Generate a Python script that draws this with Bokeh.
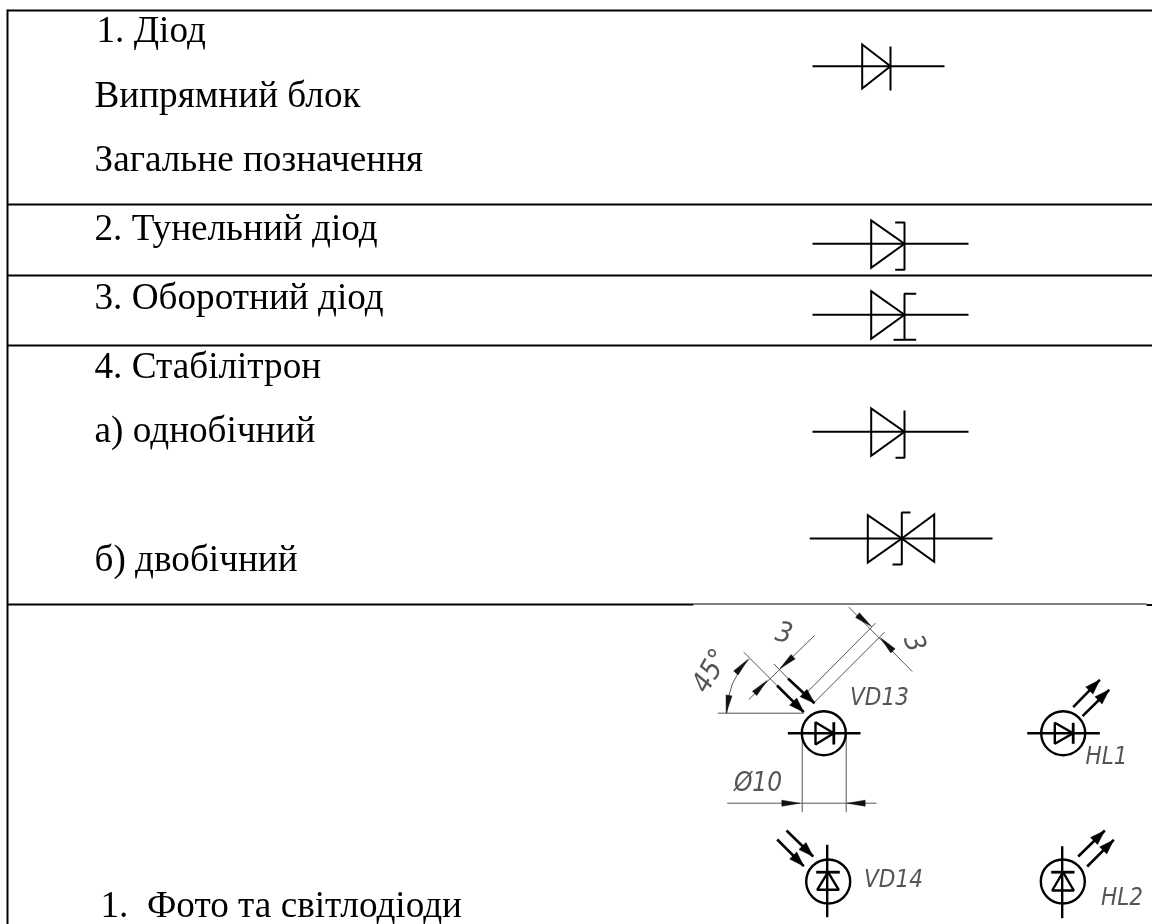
from bokeh.plotting import figure
from bokeh.models import Range1d
from bokeh.embed import file_html
from bokeh.resources import INLINE
from bokeh.core.properties import value

# ---- table ----
row_rules_y = [10, 204, 275, 345]
split_rule_y = 604
# ---- table texts ----
label_texts = ["1. Діод", "Випрямний блок", "Загальне позначення", "2. Тунельний діод",
               "3. Оборотний діод", "4. Стабілітрон", "а) однобічний", "б) двобічний",
               "1.\u00a0\u00a0Фото та світлодіоди"]
label_x = [96, 94, 94, 94, 94, 94, 94, 94, 100]
label_y = [43, 108, 172, 241, 310, 379, 443, 572, 918]
label_size = 37.2

# ---- plain diode symbols: lead, triangle(s), bar ----
leads = [(812, 944, 65.7), (812, 968, 243.3), (812, 968, 314.3), (812, 968, 431.3), (809.3, 992, 538)]
tri_x = [[861.7, 861.7, 890], [870.7, 870.7, 904], [870.7, 870.7, 904], [870.7, 870.7, 904],
         [867.3, 867.3, 901.3], [933.7, 933.7, 901.3]]
tri_y = [[44, 88, 65.7], [220, 267.3, 243.3], [290.7, 338.3, 314.3], [408, 455.3, 431.3],
         [514.7, 562, 538], [514, 561.3, 538]]
bars_x = [[890, 890], [894.7, 904, 904, 894.7], [915.7, 904, 904, 915.7], [904, 904, 895],
          [910, 901.3, 901.3, 892]]
bars_y = [[46, 90], [222, 222, 269.3, 269.3], [293.3, 293.3, 339.3, 339.3], [410, 457.3, 457.3],
          [512, 512, 564, 564]]
extra_bar_x = [[893, 904]]
extra_bar_y = [[339.3, 339.3]]

# ---- circled diodes ----
circle_x = [823.3, 1062.7, 827.7, 1062.3]
circle_y = [732.7, 732.7, 881, 881]
circle_r = [22, 22, 22, 22]
c_lead_x = [[787.3, 860], [1026.7, 1099.3], [826.7, 826.7], [1061.7, 1061.7]]
c_lead_y = [[732.7, 732.7], [732.7, 732.7], [844.3, 916.7], [845.7, 917.7]]
c_tri_x = [[815, 815, 833.3], [1054.3, 1054.3, 1072.7], [816.7, 838.3, 827.5], [1051.7, 1073.3, 1062.5]]
c_tri_y = [[721.7, 744, 732.7], [722.3, 743.3, 732.7], [889.3, 889.3, 871.7], [890, 890, 871.7]]
c_bar_x = [[833.3, 833.3], [1072.7, 1072.7], [815.7, 839.3], [1050.7, 1074]]
c_bar_y = [[721.7, 744], [722.3, 743.3], [871.7, 871.7], [871.7, 871.7]]

# ---- light arrows (tail x, tail y, tip x, tip y) ----
light_arrows = [
    (776.5, 685, 803.3, 711.7), (787.5, 678, 814, 702.7),
    (776.7, 839, 803.3, 865.7), (786, 830, 812.7, 856),
    (1072.7, 706.7, 1099.3, 679.3), (1082, 715.7, 1108.7, 689.3),
    (1077.7, 856, 1104.3, 830), (1086.7, 866, 1113.3, 839.3),
]

# ---- thin dimension lines ----
dim_x = [[717.3, 803.3], [743.3, 776.5], [773.3, 787.5], [814, 884], [806.7, 875], [848.3, 911.7],
         [814, 748.3], [801.7, 801.7], [845.7, 845.7], [726.7, 876]]
dim_y = [[712.7, 712.7], [651.7, 685], [663.3, 678], [701.7, 631.7], [691.7, 622.7], [606.7, 671],
         [635, 699], [733, 811.7], [733, 811.7], [802.7, 802.7]]
# ---- small dimension arrowheads (tail x, tail y, tip x, tip y) ----
dim_heads = [
    (855, 613, 871, 626), (895, 653, 880, 637.3),
    (791.7, 657, 779.3, 668.3), (753, 694, 766.7, 680),
    (779.3, 802.7, 799.3, 802.7), (868.3, 802.7, 846.7, 802.7),
    (734, 674, 747.3, 659), (729, 691.7, 725.7, 712.7),
]
arc_center = (803.3, 712.7)
arc_radius = 77
arc_deg = (135, 180)

# ---- dimension and designation texts (centres) ----
note_texts = ["VD13", "HL1", "VD14", "HL2", "Ø10", "45°", "3", "3"]
note_x = [879, 1106, 893, 1121.5, 757.5, 709.3, 784, 915.7]
note_y = [696, 755, 878, 896.5, 781.5, 670, 631, 642.3]
note_deg = [0, 0, 0, 0, 0, 60, -15, -70]
note_size = ["24px"] * 4 + ["26px", "28px", "28px", "28px"]


def head(tail_x, tail_y, tip_x, tip_y, length, half):
    dx, dy = tip_x - tail_x, tip_y - tail_y
    n = (dx * dx + dy * dy) ** 0.5
    ux, uy = dx / n, dy / n
    bx, by = tip_x - ux * length, tip_y - uy * length
    return ([tip_x, bx - uy * half, bx + uy * half], [tip_y, by + ux * half, by - ux * half])


p = figure(width=1152, height=924, output_backend="svg", toolbar_location=None,
           x_range=Range1d(0, 1152), y_range=Range1d(924, 0), min_border=0,
           outline_line_color=None, x_axis_type=None, y_axis_type=None,
           background_fill_color="white", border_fill_color="white")
p.styles = {"position": "fixed", "left": "0px", "top": "0px"}
p.grid.visible = False

# table rules
p.multi_line([[7, 1152]] * len(row_rules_y), [[y, y] for y in row_rules_y], line_color="black", line_width=2)
p.line([7, 7], [9, 924], line_color="black", line_width=2)
p.line([7, 693], [split_rule_y, split_rule_y], line_color="black", line_width=2)
p.line([693, 1146], [split_rule_y - 0.5, split_rule_y - 0.5], line_color="black", line_width=1)
p.line([1146, 1152], [split_rule_y + 0.5, split_rule_y + 0.5], line_color="black", line_width=2)

p.text(label_x, label_y, text=label_texts, y_offset=-0.375 * label_size,
       text_font=value("Liberation Serif"), text_font_size=f"{label_size}px",
       text_baseline="alphabetic", text_align="left", text_color="#000000")

# plain symbols
p.multi_line([[a, b] for a, b, _ in leads], [[c, c] for _, _, c in leads], line_color="black", line_width=2)
p.patches(tri_x, tri_y, fill_color=None, line_color="black", line_width=2, line_join="miter")
p.multi_line(bars_x, bars_y, line_color="black", line_width=2)
p.multi_line(extra_bar_x, extra_bar_y, line_color="black", line_width=2)

# drawing
p.multi_line(dim_x, dim_y, line_color="#555555", line_width=1)
p.arc(x=[arc_center[0]], y=[arc_center[1]], radius=[arc_radius],
      start_angle=arc_deg[0], end_angle=arc_deg[1], start_angle_units="deg", end_angle_units="deg",
      line_color="#555555", line_width=1, direction="anticlock")
hx, hy = zip(*[head(*a, 18, 3) for a in dim_heads])
p.patches(list(hx), list(hy), fill_color="#111111", line_color="#111111", line_width=0.5)

p.circle(circle_x, circle_y, radius=circle_r, fill_color=None, line_color="black", line_width=2.4)
p.multi_line(c_lead_x, c_lead_y, line_color="black", line_width=2.4)
p.patches(c_tri_x, c_tri_y, fill_color=None, line_color="black", line_width=2.4)
p.multi_line(c_bar_x, c_bar_y, line_color="black", line_width=2.8)

p.multi_line([[a[0], a[2]] for a in light_arrows], [[a[1], a[3]] for a in light_arrows],
             line_color="black", line_width=2.6)
lx, ly = zip(*[head(*a, 15, 5) for a in light_arrows])
p.patches(list(lx), list(ly), fill_color="black", line_color="black", line_width=0.5)

for t, x, y, d, s in zip(note_texts, note_x, note_y, note_deg, note_size):
    p.text([x], [y], text=[t], angle=[d], angle_units="deg", text_font=value("DejaVu Sans Condensed"),
           text_font_style="italic", text_font_size=s, text_align="center", text_baseline="middle",
           text_color="#555555")

open("out.html", "w").write(file_html(p, INLINE))
